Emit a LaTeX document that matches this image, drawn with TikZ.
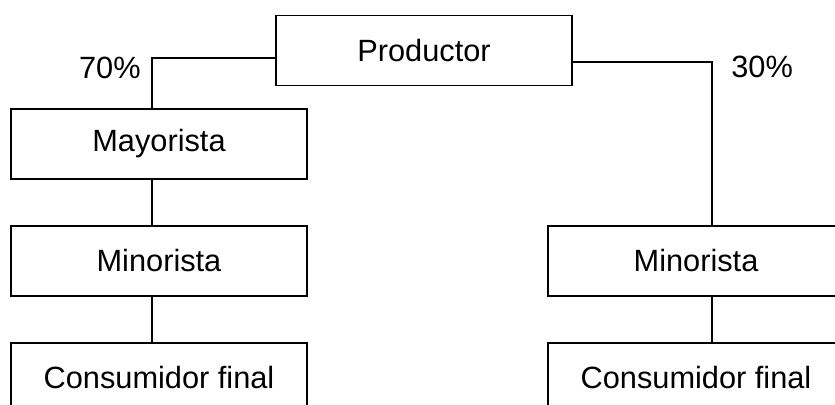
\documentclass[tikz,border=0pt]{standalone}
\usepackage{fontspec}
\setmainfont{Liberation Sans}
\usepackage{tikz}
\usetikzlibrary{calc}

\tikzset{
    caja/.style={draw, line width=0.8pt, minimum width=5.92cm, minimum height=1.4cm, inner sep=0pt, font=\fontsize{17.5}{20}\selectfont},
    pct/.style={inner sep=0pt, font=\fontsize{17.5}{20}\selectfont}
}

\begin{document}
\begin{tikzpicture}[x=0.02cm, y=-0.02cm]
    \useasboundingbox (0,0) rectangle (835,405);
    \clip (0,0) rectangle (835,405);

    \node[caja] (prod) at (424, 50.5) {Productor};
    \node[caja] (mayo) at (159, 144) {Mayorista};
    \node[caja] (minl) at (159, 261) {Minorista};
    \node[caja] (conl) at (159, 378) {Consumidor final};
    \node[caja] (minr) at (696, 261) {Minorista};
    \node[caja] (conr) at (696, 378) {Consumidor final};

    \coordinate (k70) at (152, 58);
    \coordinate (k30) at (712, 62);

    \node[pct, anchor=north east] (p70) at ([xshift=-0.22cm, yshift=0.02cm]k70) {70\%};
    \node[pct, anchor=north west] (p30) at ([xshift=0.38cm, yshift=0.12cm]k30) {30\%};

    \draw[line width=0.8pt]
    (prod.west |- k70) -- (k70) -- (mayo.north -| k70)
    (mayo.south -| k70) -- (minl.north -| k70)
    (minl.south -| k70) -- (conl.north -| k70)
    (prod.east |- k30) -- (k30) -- (minr.north -| k30)
    (minr.south -| k30) -- (conr.north -| k30);
\end{tikzpicture}
\end{document}
